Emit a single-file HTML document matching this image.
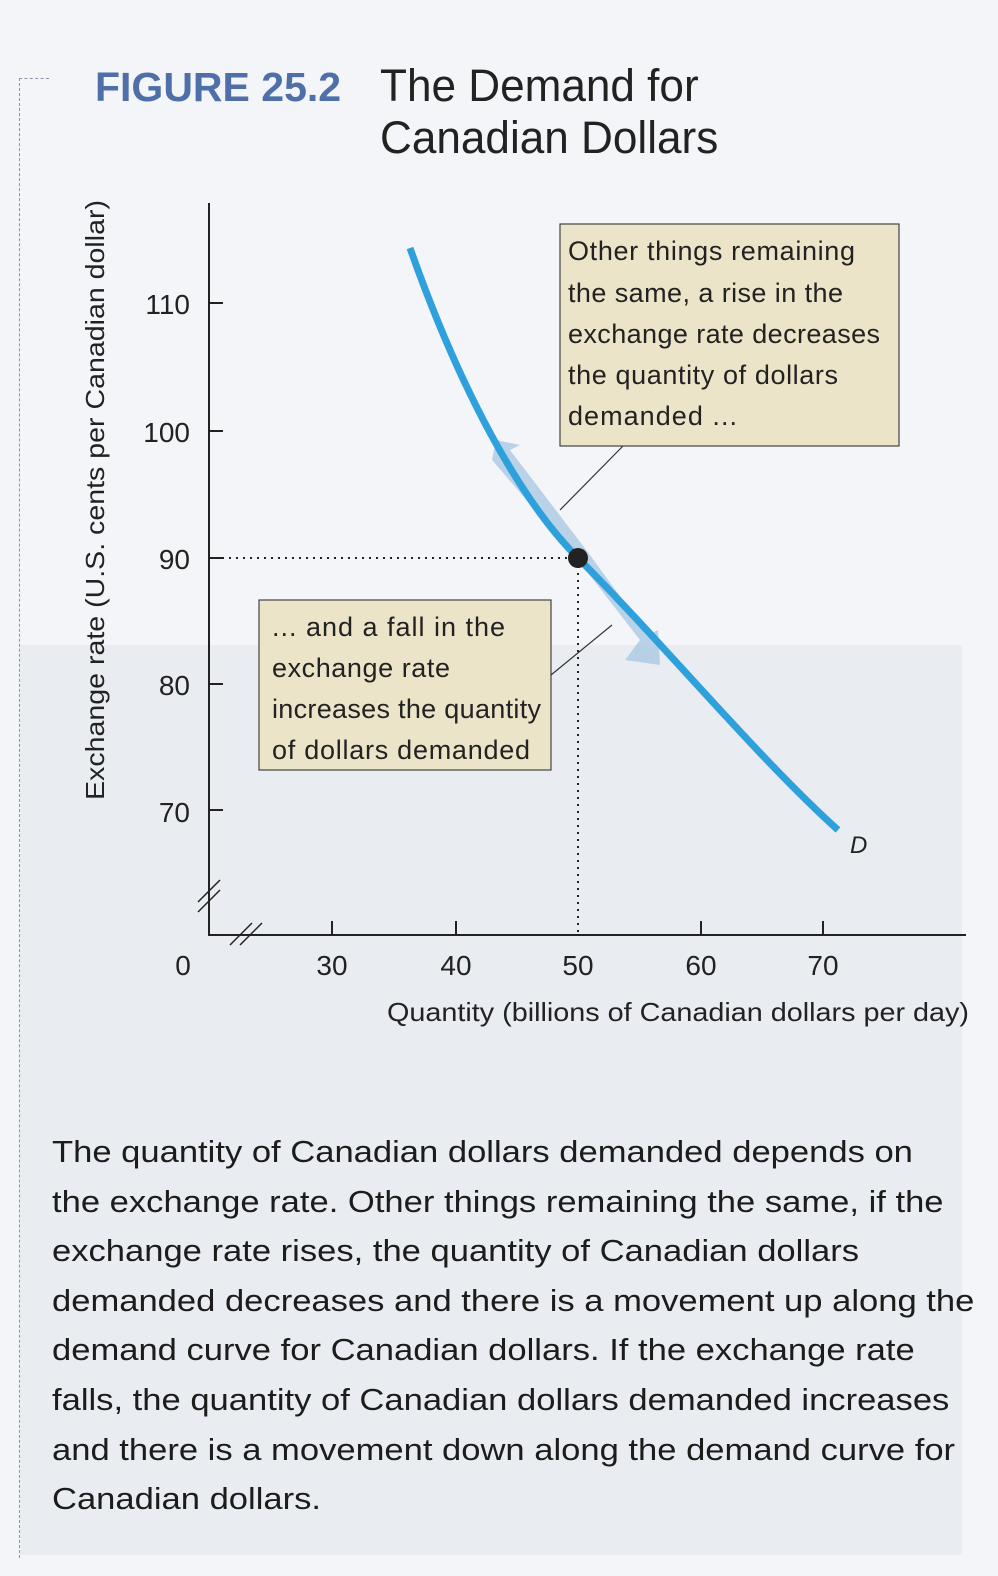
<!DOCTYPE html>
<html><head><meta charset="utf-8"><style>
html,body{margin:0;padding:0;}
body{width:998px;height:1576px;background:#f3f5f8;position:relative;overflow:hidden;font-family:"Liberation Sans","DejaVu Sans",sans-serif;color:#1e1e1e;}
.abs{position:absolute;white-space:nowrap;}
.body{position:absolute;left:52px;top:1127px;font-size:31px;line-height:49.6px;color:#1c1c1c;white-space:nowrap;transform:scaleX(1.115);transform-origin:left top;}
</style></head><body>
<div class="abs" style="left:20px;top:645px;width:942px;height:910px;background:#e9edf1;"></div>
<div class="abs" style="left:19px;top:78px;width:0;height:1480px;border-left:1px dashed #8a93a8;"></div>
<div class="abs" style="left:19px;top:78px;width:30px;height:0;border-top:1px dashed #8a93a8;"></div>
<div class="abs" style="left:95px;top:64px;font-size:41px;font-weight:bold;color:#4e6fa8;transform:scaleX(1.0);transform-origin:left;">FIGURE 25.2</div>
<div class="abs" style="left:380px;top:60px;font-size:45px;line-height:52px;color:#222;transform:scaleX(0.98);transform-origin:left;">The Demand for<br>Canadian Dollars</div>

<svg class="abs" style="left:0;top:0" width="998" height="1576">
<g stroke="#222" stroke-width="2" fill="none">
<path d="M209,203 V935 H966"/>
<path d="M209,303 h14 M209,431 h14 M209,558 h14 M209,684 h14 M209,810 h14"/>
<path d="M332,935 v-14 M456,935 v-14 M701,935 v-14 M823,935 v-14"/>
<path d="M198,912 l22,-22 M198,902 l22,-22" stroke-width="1.5"/>
<path d="M230,945 l22,-22 M240,945 l22,-22" stroke-width="1.5"/>
</g>
<g stroke="#222" stroke-width="2" stroke-dasharray="2,5" fill="none">
<path d="M215,558 H578 V935"/>
</g>
<path d="M492,460 L578,560 L640,640 L625,660 L660,665 L658,630 L648,635 L590,555 L510,450 L520,445 L496,440 Z" fill="#9fc3e0" opacity="0.7"/>
<path d="M410,248 C460,390 520,500 578,558 C660,640 760,760 838,830" stroke="#2ea0dc" stroke-width="7" fill="none"/>
<circle cx="578" cy="558" r="10" fill="#222"/>
<rect x="560" y="224" width="339" height="222" fill="#ece4c8" stroke="#444" stroke-width="1.2"/>
<rect x="259" y="600" width="292" height="170" fill="#ece4c8" stroke="#444" stroke-width="1.2"/>
<path d="M623,446 L560,510 M551,675 L612,625" stroke="#333" stroke-width="1.2"/>
<text x="850" y="853" font-size="24" font-style="italic" fill="#222" font-family="Liberation Sans, sans-serif">D</text>
<g font-size="28" fill="#222" font-family="Liberation Sans, sans-serif" text-anchor="end">
<text x="190" y="314">110</text><text x="190" y="442">100</text><text x="190" y="569">90</text><text x="190" y="695">80</text><text x="190" y="822">70</text>
</g>
<g font-size="28" fill="#222" font-family="Liberation Sans, sans-serif" text-anchor="middle">
<text x="183" y="975">0</text><text x="332" y="975">30</text><text x="456" y="975">40</text><text x="578" y="975">50</text><text x="701" y="975">60</text><text x="823" y="975">70</text>
</g>
<text x="387" y="1021" font-size="26" fill="#222" font-family="Liberation Sans, sans-serif" textLength="582" lengthAdjust="spacingAndGlyphs">Quantity (billions of Canadian dollars per day)</text>
<text transform="translate(104,800) rotate(-90)" font-size="26" fill="#222" font-family="Liberation Sans, sans-serif" textLength="600" lengthAdjust="spacingAndGlyphs">Exchange rate (U.S. cents per Canadian dollar)</text>
<g font-size="27" fill="#222" font-family="Liberation Sans, sans-serif" lengthAdjust="spacingAndGlyphs">
<text x="568" y="260" textLength="287">Other things remaining</text>
<text x="568" y="302" textLength="275">the same, a rise in the</text>
<text x="568" y="343" textLength="312">exchange rate decreases</text>
<text x="568" y="384" textLength="270">the quantity of dollars</text>
<text x="568" y="425" textLength="169">demanded ...</text>
<text x="272" y="636" textLength="233">... and a fall in the</text>
<text x="272" y="677" textLength="178">exchange rate</text>
<text x="272" y="718" textLength="269">increases the quantity</text>
<text x="272" y="759" textLength="258">of dollars demanded</text>
</g>
</svg>
<div class="body">The quantity of Canadian dollars demanded depends on<br>the exchange rate. Other things remaining the same, if the<br>exchange rate rises, the quantity of Canadian dollars<br>demanded decreases and there is a movement up along the<br>demand curve for Canadian dollars. If the exchange rate<br>falls, the quantity of Canadian dollars demanded increases<br>and there is a movement down along the demand curve for<br>Canadian dollars.</div>
</body></html>
